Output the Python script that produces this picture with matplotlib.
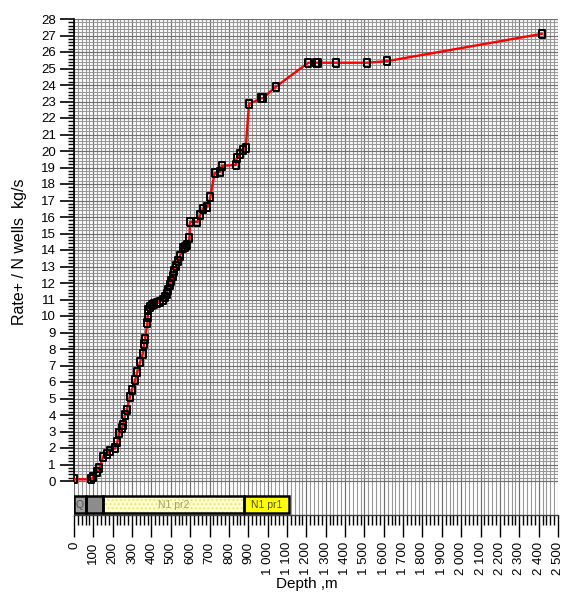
import numpy as np
import matplotlib
matplotlib.use("Agg")
import matplotlib.pyplot as plt
from matplotlib.ticker import MultipleLocator, FixedLocator

plt.rcParams['font.family'] = ['Liberation Sans', 'DejaVu Sans']

# ---- data ----
depth = [0, 90, 100, 117, 131, 151, 169, 186, 212, 224, 234, 246, 255, 263, 272,
         289, 298, 315, 327, 341, 355, 362, 367, 379, 380, 384, 392, 401, 415, 427,
         444, 461, 470, 478, 486, 494, 502, 510, 518, 527, 536, 547, 565, 575, 582,
         596, 599, 637, 651, 665, 689, 704, 726, 756, 763, 835, 840, 857, 871, 887,
         904, 966, 975, 1043, 1210, 1250, 1262, 1353, 1512, 1619, 2416]
rate = [0.1, 0.1, 0.26, 0.56, 0.77, 1.47, 1.64, 1.84, 1.98, 2.38, 2.89, 3.19, 3.39, 4.0, 4.3,
        5.1, 5.5, 6.1, 6.6, 7.2, 7.7, 8.3, 8.6, 9.56, 9.96, 10.36, 10.55, 10.67, 10.72, 10.77,
        10.87, 10.97, 11.15, 11.35, 11.6, 11.9, 12.15, 12.45, 12.75, 13.05, 13.35, 13.64, 14.1, 14.2, 14.3,
        14.7, 15.7, 15.7, 16.1, 16.5, 16.6, 17.2, 18.65, 18.75, 19.1, 19.15, 19.56, 19.8, 20.06, 20.2,
        22.85, 23.19, 23.2, 23.9, 25.35, 25.35, 25.35, 25.35, 25.35, 25.45, 27.1]

strata_names = ["Q", "", "N1 pr2", "N1 pr1"]
strata_top = [0, 60, 150, 880]
strata_bottom = [60, 150, 880, 1110]
strata_colors = ["#a0a0a0", "#8c8c8c", "#ffffd0", "#ffff00"]
strata_hatch = [None, None, "....", None]
strata_text_colors = ["#505050", "#606060", "#a0a060", "#505000"]

x_ticks = list(range(0, 2501, 100))
x_tick_labels = [f"{v:,}".replace(",", " ") for v in x_ticks]
y_ticks = list(range(0, 29))

# ---- figure ----
W, H = 567, 592
fig = plt.figure(figsize=(W / 100, H / 100), dpi=100)
left, right, top, bottom = 74, 558, 19, 515
ax = fig.add_axes([left / W, 1 - bottom / H, (right - left) / W, (bottom - top) / H])

ymin = -(bottom - 481) / 16.5
ax.set_xlim(0, 2500)
ax.set_ylim(ymin, 28)

# grid
ax.vlines(np.arange(0, 2501, 20), ymin, 28, colors="#989898", linewidth=0.8, zorder=0)
ax.vlines(np.arange(0, 2501, 100), ymin, 28, colors="#707070", linewidth=0.8, zorder=0)
ax.hlines(np.arange(0, 28.01, 0.2), 0, 2500, colors="#989898", linewidth=0.8, zorder=0)
ax.hlines(np.arange(0, 28.01, 1), 0, 2500, colors="#707070", linewidth=0.8, zorder=0)

# stratigraphy column
y0, y1 = -0.91, -1.94
yc = (y0 + y1) / 2
for name, a, b, c, h, tc in zip(strata_names, strata_top, strata_bottom, strata_colors,
                                strata_hatch, strata_text_colors):
    ax.barh(yc, b - a, left=a, height=y0 - y1, color=c, edgecolor="#e6e67a" if h else c,
            hatch=h, linewidth=0, zorder=3)
    ax.barh(yc, b - a, left=a, height=y0 - y1, facecolor="none", edgecolor="black",
            linewidth=1.8, zorder=3.5)
    if name:
        ax.text((a + b) / 2, yc, name, ha="center", va="center",
                fontsize=7.5, color=tc, zorder=4)

# data
ax.plot(depth, rate, color="red", linewidth=1.7, zorder=5,
        marker=[(-0.7, -1), (0.7, -1), (0.7, 1), (-0.7, 1), (-0.7, -1)],
        markersize=6, markerfacecolor="none", markeredgecolor="black",
        markeredgewidth=1.4)

# spines
for s in ["top", "right"]:
    ax.spines[s].set_visible(False)
ax.spines["left"].set_color("black")
ax.spines["left"].set_linewidth(1.2)
ax.spines["left"].set_bounds(0, 28)
ax.spines["bottom"].set_color("#404040")
ax.spines["bottom"].set_linewidth(1.0)

# ticks
ax.yaxis.set_major_locator(FixedLocator(y_ticks))
ax.yaxis.set_minor_locator(FixedLocator(list(np.arange(0, 28.01, 0.2))))
ax.set_yticklabels([str(v) for v in y_ticks])
ax.tick_params(axis="y", which="major", length=10, width=1.2, labelsize=9.5, pad=3, direction="out")
ax.tick_params(axis="y", which="minor", length=4, width=1.0, direction="out")

ax.xaxis.set_major_locator(FixedLocator(x_ticks))
ax.xaxis.set_minor_locator(MultipleLocator(20))
ax.set_xticklabels(x_tick_labels, rotation=90)
ax.tick_params(axis="x", which="major", length=16, width=1.0, labelsize=9.5, pad=3, direction="out")
ax.tick_params(axis="x", which="minor", length=7, width=1.0, direction="out")

ax.set_ylabel("Rate+ / N wells  kg/s", fontsize=11.5)
ax.yaxis.set_label_coords(-0.097, 0.53)
ax.set_xlabel("Depth ,m", fontsize=11)
ax.xaxis.set_label_coords(0.48, -0.125)

fig.savefig("out.png", dpi=100)
